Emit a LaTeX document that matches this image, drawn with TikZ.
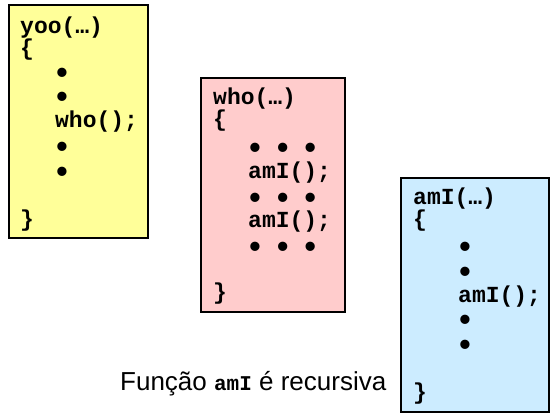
\documentclass[tikz,border=0pt]{standalone}
\usepackage{fontspec}
\setmainfont{Liberation Sans}
\newfontfamily\codefont{Liberation Mono}
\definecolor{boxyellow}{HTML}{FFFF99}
\definecolor{boxpink}{HTML}{FFCCCC}
\definecolor{boxblue}{HTML}{CCECFF}
\newcommand\bul{\makebox[0.6em]{\smash{\scalebox{1.4}{•}}}}
\tikzset{
  codebox/.style={draw=black, line width=2.5pt},
  code/.style={anchor=base west, inner sep=0pt, text height=15pt, text depth=4pt,
    font=\codefont\bfseries\fontsize{23}{23}\selectfont},
  caption/.style={anchor=base west, inner sep=0pt, font=\fontsize{26}{26}\selectfont}
}
\begin{document}
\begin{tikzpicture}[x=1pt,y=-1pt]
\useasboundingbox (0,0) rectangle (555,417);
% yellow
\path[codebox, fill=boxyellow] (9,5) rectangle (148,238);
\node[code] (y1) at (20,34) {yoo(…)};
\node[code] (y2) at (20,56) {\{};
\node[code] (y3) at (55,83.5) {\bul};
\node[code] (y4) at (55,107.5) {\bul};
\node[code] (y5) at (55,128) {who();};
\node[code] (y6) at (55,157.5) {\bul};
\node[code] (y7) at (55,182.5) {\bul};
\node[code] (y8) at (20,227) {\}};
% pink
\path[codebox, fill=boxpink] (201,78) rectangle (345,312);
\node[code] (p1) at (213,105) {who(…)};
\node[code] (p2) at (213,127) {\{};
\node[code] (p3) at (248,158.5) {\bul\ \bul\ \bul};
\node[code] (p4) at (248,179) {amI();};
\node[code] (p5) at (248,208.5) {\bul\ \bul\ \bul};
\node[code] (p6) at (248,228) {amI();};
\node[code] (p7) at (248,257.5) {\bul\ \bul\ \bul};
\node[code] (p8) at (213,299) {\}};
% blue
\path[codebox, fill=boxblue] (401,178) rectangle (549,412);
\node[code] (b1) at (413,205) {amI(…)};
\node[code] (b2) at (413,227) {\{};
\node[code] (b3) at (458,257.5) {\bul};
\node[code] (b4) at (458,282.5) {\bul};
\node[code] (b5) at (458,302) {amI();};
\node[code] (b6) at (458,330.5) {\bul};
\node[code] (b7) at (458,355.5) {\bul};
\node[code] (b8) at (413,399) {\}};
% caption
\node[caption] (cap) at (120,390) {Função {\codefont\bfseries\fontsize{21}{21}\selectfont amI} é recursiva};
\end{tikzpicture}
\end{document}
